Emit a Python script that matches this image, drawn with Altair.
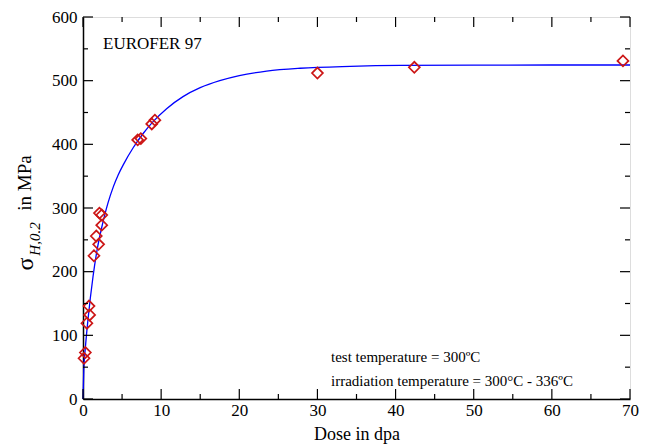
import altair as alt
import pandas as pd

dose = [0.13, 0.3, 0.5, 0.77, 0.85, 1.4, 1.7, 2.0, 2.1, 2.4, 2.4, 7.0, 7.4, 8.8, 9.2, 30.0, 42.4, 69.1]
sigma = [64, 73, 119, 146, 132, 225, 256, 243, 292, 289, 273, 407, 409, 432, 438, 512, 521, 531]

# fitted curve
fit_dose = [0, 0.1, 0.3, 0.64, 1.28, 1.8, 2.35, 2.8, 3.2, 3.9, 4.5, 5.2, 6.44, 7.7, 9.0, 10.7,
            12.8, 15.0, 17.5, 20.0, 23.5, 27.8, 34.2, 40.6, 50, 60, 70]
fit_sigma = [0, 45, 80, 125, 192, 234, 267, 290, 308, 334, 352, 369, 395, 417, 436, 456,
             475, 489, 500, 508, 515, 519.5, 522.5, 524, 524.5, 524.6, 524.6]

x_major = [0, 10, 20, 30, 40, 50, 60, 70]
x_minor = [5, 15, 25, 35, 45, 55, 65]
y_major = [0, 100, 200, 300, 400, 500, 600]
y_minor = [50, 150, 250, 350, 450, 550]

W, H = 547, 382
FONT = "Liberation Serif, Times New Roman, Times, serif"

pts = pd.DataFrame({"dose": dose, "sigma": sigma})
fit = pd.DataFrame({"dose": fit_dose, "sigma": fit_sigma})
xM = pd.DataFrame({"v": x_major})
xm = pd.DataFrame({"v": x_minor})
yM = pd.DataFrame({"v": y_major})
ym = pd.DataFrame({"v": y_minor})

xs = alt.Scale(domain=[0, 70], nice=False)
ys = alt.Scale(domain=[0, 600], nice=False)

xaxis = alt.Axis(values=x_major, ticks=False, domainColor="black", domainWidth=1.5,
                 labelFont=FONT, labelFontSize=17, labelColor="black", labelPadding=3,
                 titleFont=FONT, titleFontSize=18, titleFontWeight="normal", titleColor="black",
                 titlePadding=7, grid=False, labelFlush=False)
yaxis = alt.Axis(values=y_major, ticks=False, domainColor="black", domainWidth=1.5,
                 labelFont=FONT, labelFontSize=17, labelColor="black", labelPadding=6,
                 grid=False, labelFlush=False)

line = alt.Chart(fit).mark_line(color="#0000ff", strokeWidth=1.3, interpolate="monotone").encode(
    x=alt.X("dose:Q", scale=xs, axis=xaxis, title="Dose in dpa"),
    y=alt.Y("sigma:Q", scale=ys, axis=yaxis, title=None),
)

points = alt.Chart(pts).mark_point(shape="diamond", size=120, color="#cc1515", strokeWidth=1.7,
                                   filled=False, opacity=1).encode(
    x=alt.X("dose:Q", scale=xs),
    y=alt.Y("sigma:Q", scale=ys),
)

def xticks(df, length, top):
    if top:
        return alt.Chart(df).mark_rule(color="black", strokeWidth=1.2).encode(
            x=alt.X("v:Q", scale=xs), y=alt.value(0), y2=alt.value(length))
    return alt.Chart(df).mark_rule(color="black", strokeWidth=1.2).encode(
        x=alt.X("v:Q", scale=xs), y=alt.value(H), y2=alt.value(H - length))

def yticks(df, length, right):
    if right:
        return alt.Chart(df).mark_rule(color="black", strokeWidth=1.2).encode(
            y=alt.Y("v:Q", scale=ys), x=alt.value(W), x2=alt.value(W - length))
    return alt.Chart(df).mark_rule(color="black", strokeWidth=1.2).encode(
        y=alt.Y("v:Q", scale=ys), x=alt.value(0), x2=alt.value(length))

ticks = [xticks(xM, 10, False), xticks(xm, 5, False), xticks(xM, 10, True), xticks(xm, 5, True),
         yticks(yM, 10, False), yticks(ym, 5, False), yticks(yM, 10, True), yticks(ym, 5, True)]

label = pd.DataFrame({"t": ["EUROFER 97"]})
eurofer = alt.Chart(label).mark_text(font=FONT, fontSize=17, align="left", baseline="middle",
                                     color="black").encode(
    text="t:N", x=alt.value(20), y=alt.value(27))

notes = ["test temperature = 300ºC", "irradiation temperature = 300°C - 336ºC"]
note1 = alt.Chart(pd.DataFrame({"t": [notes[0]]})).mark_text(
    font=FONT, fontSize=15, align="left", baseline="middle", color="black").encode(
    text="t:N", x=alt.value(248), y=alt.value(340))
note2 = alt.Chart(pd.DataFrame({"t": [notes[1]]})).mark_text(
    font=FONT, fontSize=15, align="left", baseline="middle", color="black").encode(
    text="t:N", x=alt.value(248), y=alt.value(364))

ytitle_parts = ["σ", "H,0.2", "in MPa"]
yt1 = alt.Chart(pd.DataFrame({"t": [ytitle_parts[0]]})).mark_text(
    font=FONT, fontSize=24, angle=270, align="center", baseline="middle", color="black").encode(
    text="t:N", x=alt.value(-57), y=alt.value(247))
yt2 = alt.Chart(pd.DataFrame({"t": [ytitle_parts[1]]})).mark_text(
    font=FONT, fontSize=15, fontStyle="italic", angle=270, align="center", baseline="middle",
    color="black").encode(
    text="t:N", x=alt.value(-48), y=alt.value(222))
yt3 = alt.Chart(pd.DataFrame({"t": [ytitle_parts[2]]})).mark_text(
    font=FONT, fontSize=19, angle=270, align="center", baseline="middle", color="black").encode(
    text="t:N", x=alt.value(-58), y=alt.value(166))

chart = alt.layer(line, points, *ticks, eurofer, note1, note2, yt1, yt2, yt3).properties(
    width=W, height=H,
    autosize=alt.AutoSizeParams(type="none"),
    padding={"left": 75, "top": 9, "right": 18, "bottom": 48},
).configure_view(stroke="black", strokeWidth=1.5).configure(background="white")

chart.save("out.html", embed_options={"renderer": "svg", "actions": False})
